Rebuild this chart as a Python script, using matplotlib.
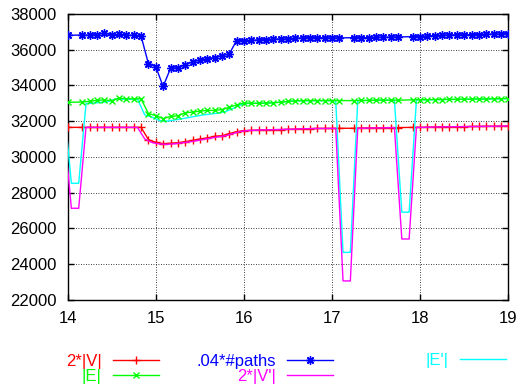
import matplotlib
matplotlib.use("Agg")
import matplotlib.pyplot as plt

plt.rcParams['font.family'] = ['Liberation Sans', 'DejaVu Sans']

# main sampling (|V|, |E|, #paths)
x_main = [14.000, 14.167, 14.250, 14.333, 14.417, 14.500, 14.583, 14.667, 14.750, 14.833,
          14.917, 15.000, 15.083, 15.167, 15.250, 15.333, 15.417, 15.500, 15.583, 15.667,
          15.750, 15.833, 15.917, 16.000, 16.083, 16.167, 16.250, 16.333, 16.417, 16.500,
          16.583, 16.667, 16.750, 16.833, 16.917, 17.000, 17.083, 17.250, 17.333, 17.417,
          17.500, 17.583, 17.667, 17.750, 17.917, 18.000, 18.083, 18.167, 18.250, 18.333,
          18.417, 18.500, 18.583, 18.667, 18.750, 18.833, 18.917, 19.000]

v2 = [31650, 31650, 31650, 31650, 31650, 31650, 31650, 31650, 31650, 31650,
      30960, 30810, 30740, 30760, 30790, 30850, 30920, 31000, 31060, 31150,
      31180, 31300, 31410, 31470, 31480, 31500, 31510, 31520, 31530, 31540,
      31550, 31570, 31580, 31590, 31590, 31590, 31600, 31600, 31610, 31620,
      31620, 31630, 31640, 31640, 31650, 31650, 31660, 31670, 31680, 31680,
      31690, 31690, 31700, 31700, 31710, 31710, 31720, 31730]

e1 = [33053, 33070, 33109, 33160, 33193, 33137, 33294, 33249, 33249, 33249,
      32421, 32310, 32142, 32260, 32298, 32466, 32510, 32560, 32600, 32600,
      32650, 32770, 32910, 33020, 33000, 33000, 33010, 33030, 33060, 33100,
      33140, 33150, 33150, 33150, 33150, 33150, 33150, 33150, 33160, 33160,
      33175, 33175, 33175, 33175, 33190, 33200, 33200, 33210, 33210, 33220,
      33220, 33230, 33230, 33240, 33240, 33250, 33260, 33265]

paths04 = [36810, 36820, 36810, 36850, 36940, 36810, 36860, 36810, 36810, 36770,
           35200, 35050, 33940, 34950, 35000, 35150, 35320, 35430, 35500, 35560,
           35670, 35760, 36510, 36510, 36520, 36550, 36560, 36590, 36600, 36600,
           36640, 36660, 36675, 36675, 36660, 36660, 36660, 36675, 36675, 36675,
           36700, 36700, 36700, 36715, 36730, 36730, 36770, 36790, 36810, 36830,
           36830, 36830, 36845, 36845, 36865, 36880, 36880, 36900]

# primed sampling (|V'|, |E'|)
x_prime = [13.958, 14.042, 14.125, 14.208, 14.292, 14.375, 14.458, 14.542, 14.625, 14.708,
           14.792, 14.875, 14.958, 15.042, 15.125, 15.208, 15.292, 15.375, 15.458, 15.542,
           15.625, 15.708, 15.792, 15.875, 15.958, 16.042, 16.125, 16.208, 16.292, 16.375,
           16.458, 16.542, 16.625, 16.708, 16.792, 16.875, 16.958, 17.042, 17.125, 17.208,
           17.292, 17.375, 17.458, 17.542, 17.625, 17.708, 17.792, 17.875, 17.958, 18.042,
           18.125, 18.208, 18.292, 18.375, 18.458, 18.542, 18.625, 18.708, 18.792, 18.875,
           18.958, 19.042]

v2p = [31600, 27120, 27120, 31650, 31650, 31650, 31650, 31650, 31650, 31650,
       31650, 31000, 30800, 30720, 30700, 30730, 30780, 30830, 30900, 30980,
       31050, 31120, 31180, 31300, 31420, 31470, 31490, 31505, 31515, 31525,
       31535, 31545, 31560, 31575, 31585, 31590, 31590, 31595, 23050, 23050,
       31600, 31605, 31615, 31620, 31625, 31635, 25400, 25400, 31650, 31650,
       31665, 31675, 31680, 31685, 31690, 31695, 31700, 31705, 31710, 31715,
       31725, 31735]

e1p = [32890, 28520, 28520, 32980, 33010, 33050, 33100, 33230, 33230, 33230,
       33230, 32350, 32220, 32030, 32000, 32060, 32130, 32200, 32280, 32350,
       32400, 32450, 32540, 32700, 32900, 32990, 33000, 33005, 33020, 33045,
       33080, 33120, 33140, 33145, 33145, 33145, 33145, 33145, 24650, 24650,
       33150, 33155, 33165, 33170, 33170, 33170, 26900, 26900, 33185, 33195,
       33200, 33205, 33210, 33215, 33220, 33225, 33230, 33235, 33240, 33250,
       33258, 33268]

x_ticks = [14, 15, 16, 17, 18, 19]
y_ticks = [22000, 24000, 26000, 28000, 30000, 32000, 34000, 36000, 38000]

labels = ["2*|V|", "|E|", ".04*#paths", "2*|V'|", "|E'|"]
colors = ["#ff0000", "#00ff00", "#0000ff", "#ff00ff", "#00ffff"]

fig = plt.figure(figsize=(5.19, 3.92), dpi=100)
ax = fig.add_axes([0.1304, 0.2355, 0.8489, 0.7288])

lw = 1.0
hV, = ax.plot(x_main, v2, color=colors[0], lw=lw, marker='+', ms=6, mew=1.0, zorder=3, label=labels[0])
hVp, = ax.plot(x_prime, v2p, color=colors[3], lw=lw, zorder=4, label=labels[3])
hEp, = ax.plot(x_prime, e1p, color=colors[4], lw=lw, zorder=3, label=labels[4])
hE, = ax.plot(x_main, e1, color=colors[1], lw=lw, marker='x', ms=5, mew=1.0, zorder=4, label=labels[1])
hP, = ax.plot(x_main, paths04, color=colors[2], lw=lw, marker=(8, 2, 0), ms=6, mew=1.0, zorder=4, label=labels[2])

ax.set_xlim(14, 19)
ax.set_ylim(22000, 38000)
ax.set_xticks(x_ticks)
ax.set_yticks(y_ticks)
ax.set_xticklabels([str(t) for t in x_ticks])
ax.set_yticklabels([str(t) for t in y_ticks])
ax.tick_params(direction='in', length=4, width=1, top=True, right=True, labelsize=12, colors='black')
ax.tick_params(axis='x', pad=8)
ax.tick_params(axis='y', pad=8)
ax.grid(True, color='black', linestyle=(0, (1, 2)), linewidth=0.6, zorder=1)
ax.set_axisbelow(True)
for s in ax.spines.values():
    s.set_linewidth(1.0)
    s.set_color('black')

common = dict(frameon=False, markerfirst=False, labelcolor='linecolor', fontsize=12,
              handlelength=2.76, handletextpad=0.68, borderpad=0, borderaxespad=0,
              labelspacing=0.0, loc='center right')
l1 = fig.legend(handles=[hV, hE], bbox_to_anchor=(159 / 519, 1 - 369 / 392), **common)
l2 = fig.legend(handles=[hP, hVp], bbox_to_anchor=(333 / 519, 1 - 369 / 392), **common)
l3 = fig.legend(handles=[hEp], bbox_to_anchor=(505.7 / 519, 1 - 360.7 / 392), **common)

fig.savefig("out.png", dpi=100)
